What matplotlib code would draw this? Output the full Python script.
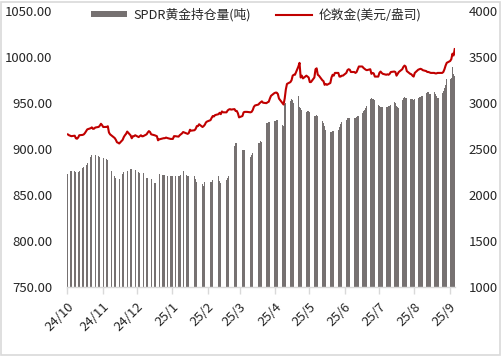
import matplotlib
matplotlib.use('Agg')
import matplotlib.pyplot as plt
import pandas as pd
import numpy as np
from matplotlib.patches import Rectangle, Patch
from matplotlib.lines import Line2D

plt.rcParams['font.family'] = ['Noto Sans CJK SC', 'DejaVu Sans']

start_date = '2024-10-01'
end_date = '2025-09-05'

# SPDR gold holdings (tonnes), one value per business day, one row per week
holdings = [
    873, 873, 876, 876,
    876, 875, 875, 875, 876,
    879, 880, 882, 883, 885,
    891, 893, 894, 894, 893,
    892, 891, 891, 892, 890,
    889, 888, 884, 880, 876,
    870, 868, 866, 865, 867,
    873, 875, 875, 876, 876,
    878, 878, 878, 878, 877,
    875, 874, 874, 873, 874,
    868, 868, 867, 866, 867,
    863, 863, 862, 874, 873,
    872, 872, 872, 872, 871,
    871, 871, 871, 870, 870,
    870, 870, 872, 875, 876,
    872, 871, 870, 875, 872,
    870, 867, 864, 862, 864,
    862, 860, 864, 865, 865,
    864, 864, 866, 868, 869,
    871, 865, 863, 862, 864,
    866, 868, 870, 876, 879,
    903, 906, 906, 902, 898,
    899, 899, 899, 896, 896,
    891, 893, 896, 905, 905,
    906, 907, 909, 908, 907,
    928, 928, 929, 929, 929,
    931, 931, 932, 932, 931,
    926, 925, 949, 950, 952,
    952, 954, 953, 950, 950,
    958, 946, 945, 943, 941,
    940, 941, 941, 940, 938,
    936, 936, 937, 936, 935,
    931, 928, 925, 921, 920,
    918, 919, 920, 920, 921,
    921, 924, 927, 929, 929,
    932, 934, 934, 934, 933,
    934, 934, 935, 936, 936,
    939, 941, 942, 945, 947,
    955, 956, 955, 954, 953,
    948, 947, 946, 946, 946,
    946, 946, 947, 947, 948,
    951, 950, 947, 946, 945,
    953, 956, 957, 956, 956,
    955, 954, 954, 953, 954,
    956, 957, 957, 958, 958,
    961, 962, 962, 960, 960,
    962, 960, 958, 956, 956,
    961, 963, 966, 970, 976,
    976, 977, 989, 982, 980,
]

# London gold price (USD/oz)
gold = [
    2659, 2650, 2645, 2640,
    2645, 2617, 2612, 2625, 2650,
    2654, 2660, 2675, 2695, 2714,
    2727, 2736, 2720, 2722, 2734,
    2741, 2755, 2775, 2760, 2740,
    2741, 2748, 2680, 2660, 2650,
    2620, 2601, 2574, 2568, 2560,
    2600, 2630, 2650, 2665, 2690,
    2648, 2617, 2640, 2640, 2650,
    2630, 2640, 2650, 2638, 2640,
    2660, 2680, 2695, 2685, 2660,
    2650, 2645, 2640, 2595, 2605,
    2615, 2618, 2618, 2625, 2620,
    2610, 2610, 2610, 2640, 2640,
    2635, 2650, 2660, 2670, 2685,
    2670, 2665, 2675, 2710, 2700,
    2705, 2720, 2750, 2750, 2770,
    2740, 2750, 2765, 2790, 2800,
    2815, 2840, 2860, 2855, 2870,
    2880, 2895, 2880, 2910, 2900,
    2900, 2920, 2930, 2935, 2930,
    2935, 2915, 2915, 2890, 2845,
    2860, 2900, 2905, 2905, 2905,
    2900, 2905, 2925, 2960, 2975,
    2985, 3000, 3010, 3020, 3005,
    3000, 3010, 3015, 3050, 3080,
    3110, 3115, 3115, 3100, 3050,
    3000, 2985, 3050, 3150, 3210,
    3230, 3250, 3300, 3310, 3310,
    3400, 3440, 3280, 3300, 3270,
    3300, 3290, 3280, 3230, 3230,
    3280, 3370, 3380, 3310, 3300,
    3250, 3240, 3200, 3210, 3200,
    3220, 3280, 3310, 3300, 3330,
    3330, 3290, 3290, 3300, 3300,
    3330, 3360, 3370, 3365, 3340,
    3340, 3330, 3340, 3370, 3400,
    3400, 3385, 3375, 3365, 3360,
    3370, 3320, 3330, 3325, 3290,
    3290, 3330, 3345, 3330, 3320,
    3310, 3315, 3310, 3320, 3340,
    3345, 3340, 3300, 3320, 3340,
    3370, 3395, 3410, 3400, 3350,
    3320, 3315, 3300, 3290, 3330,
    3365, 3370, 3375, 3370, 3360,
    3350, 3340, 3340, 3335, 3330,
    3330, 3325, 3325, 3330, 3330,
    3330, 3340, 3370, 3410, 3440,
    3460, 3480, 3540, 3520, 3590,
]

month_labels = ['24/10', '24/11', '24/12', '25/1', '25/2', '25/3',
                '25/4', '25/5', '25/6', '25/7', '25/8', '25/9']
left_ticks = [750, 800, 850, 900, 950, 1000, 1050]
right_ticks = [1000, 1500, 2000, 2500, 3000, 3500, 4000]

bar_label = 'SPDR黄金持仓量(吨)'
line_label = '伦敦金(美元/盎司)'

dates = pd.bdate_range(start_date, end_date)
n = min(len(dates), len(holdings), len(gold))
dates = dates[:n]
centers = dates + pd.Timedelta(hours=12)
tick_dates = pd.date_range('2024-10-01', '2025-09-01', freq='MS')

bar_color = '#767171'
line_color = '#C00000'
text_color = '#262626'
fs = 9.5

fig = plt.figure(figsize=(5.01, 3.56), dpi=100)
ax = fig.add_axes([67.3 / 501, 69.5 / 356, 388.0 / 501, 275.0 / 356])

ax.bar(centers, holdings[:n], width=0.65, color=bar_color, linewidth=0, zorder=2)
ax.set_ylim(750, 1050)
ax.set_yticks(left_ticks)
ax.set_yticklabels([f'{v:.2f}' for v in left_ticks], fontsize=fs, color=text_color)
ax.set_xlim(pd.Timestamp('2024-10-01'), pd.Timestamp('2025-09-06'))
ax.set_xticks(tick_dates)
ax.set_xticklabels(month_labels, rotation=45, ha='right', va='top',
                   rotation_mode='anchor', fontsize=fs, color=text_color)
ax.tick_params(axis='x', length=5, width=1, color='#D9D9D9', pad=5)
ax.tick_params(axis='y', length=0, pad=11)
for s in ['top', 'left', 'right']:
    ax.spines[s].set_visible(False)
ax.spines['bottom'].set_color('#D9D9D9')
ax.spines['bottom'].set_linewidth(1)

ax2 = ax.twinx()
ax2.plot(centers, gold[:n], color=line_color, lw=1.5, zorder=3)
ax2.set_ylim(1000, 4000)
ax2.set_yticks(right_ticks)
ax2.set_yticklabels([str(v) for v in right_ticks], fontsize=fs, color=text_color)
ax2.tick_params(axis='y', length=0, pad=9.5)
for s in ['top', 'left', 'right', 'bottom']:
    ax2.spines[s].set_visible(False)

handles = [Patch(facecolor=bar_color, edgecolor='none'),
           Line2D([], [], color=line_color, lw=1.5)]
fig.legend(handles, [bar_label, line_label], loc='upper center',
           bbox_to_anchor=(256.3 / 501, 1 - 8 / 356), ncol=2, frameon=False,
           fontsize=9.2, handlelength=2.8, handleheight=0.45, handletextpad=0.52,
           columnspacing=1.96, borderaxespad=0, borderpad=0,
           labelcolor=text_color)

fig.add_artist(Rectangle((0.5 / 501, 1.5 / 356), 499.5 / 501, 353.0 / 356,
                         transform=fig.transFigure, fill=False,
                         edgecolor='#D9D9D9', lw=1.2))

fig.savefig('out.png', dpi=100)
